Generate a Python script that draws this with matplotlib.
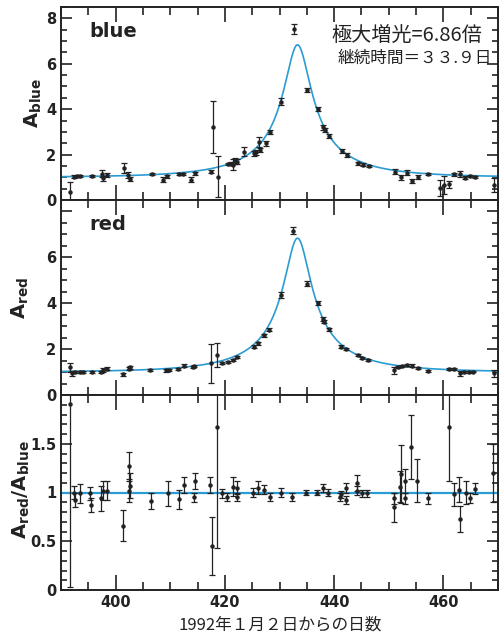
import numpy as np
import matplotlib
matplotlib.use('Agg')
import matplotlib.pyplot as plt
from matplotlib.ticker import MultipleLocator

plt.rcParams['font.family'] = ['DejaVu Sans', 'Noto Sans CJK JP']
plt.rcParams['mathtext.fontset'] = 'dejavusans'

# ---- data (days since 1992-01-02) ----
blue_t = [391.7, 392.3, 392.9, 393.5, 395.6, 397.5, 397.7, 398.5, 401.5, 402.3, 402.6,
          406.6, 408.6, 409.4, 411.6, 412.4, 413.8, 414.5, 417.5, 417.8, 418.7, 420.5,
          421.1, 421.4, 421.8, 422.3, 423.5, 425.4, 425.7, 426.3, 426.4, 427.5, 428.2,
          430.2, 432.6, 435.1, 437.1, 438.0, 438.3, 439.1, 441.4, 442.3, 444.3, 445.3,
          446.3, 451.2, 452.2, 453.3, 454.2, 455.4, 457.2, 459.3, 460.1, 461.1, 462.0,
          463.0, 463.9, 464.8, 465.8, 469.2]
blue_a = [0.35, 1.03, 1.05, 1.05, 1.06, 1.15, 0.95, 1.10, 1.41, 1.10, 0.92,
          1.15, 0.90, 1.05, 1.15, 1.13, 0.90, 1.18, 1.25, 3.23, 1.03, 1.59,
          1.60, 1.55, 1.72, 1.69, 2.13, 2.05, 2.10, 2.57, 2.20, 2.50, 3.00,
          4.33, 7.52, 4.85, 4.02, 3.20, 3.08, 2.82, 2.15, 1.98, 1.62, 1.56,
          1.50, 1.25, 1.00, 1.20, 0.84, 1.02, 1.13, 0.52, 0.66, 0.70, 1.13,
          1.15, 0.98, 1.05, 1.02, 0.66]
blue_err = [0.45, 0.08, 0.05, 0.05, 0.05, 0.15, 0.10, 0.08, 0.23, 0.15, 0.10,
            0.06, 0.10, 0.07, 0.06, 0.05, 0.10, 0.07, 0.07, 1.15, 0.90, 0.06,
            0.06, 0.25, 0.12, 0.10, 0.20, 0.10, 0.10, 0.22, 0.10, 0.10, 0.10,
            0.15, 0.22, 0.10, 0.08, 0.10, 0.08, 0.08, 0.08, 0.08, 0.06, 0.05,
            0.04, 0.10, 0.12, 0.10, 0.08, 0.10, 0.05, 0.35, 0.40, 0.15, 0.08,
            0.12, 0.06, 0.04, 0.04, 0.30]

red_t = [391.7, 392.0, 392.6, 393.4, 394.0, 395.6, 397.3, 397.6, 398.5, 401.4, 402.4,
         402.6, 406.3, 409.2, 409.7, 411.5, 412.5, 414.2, 414.4, 417.5, 418.5, 419.5,
         420.5, 421.4, 422.3, 425.3, 426.1, 427.2, 428.1, 430.2, 432.4, 435.0, 437.0,
         438.0, 438.2, 439.1, 441.3, 442.2, 444.3, 445.1, 446.2, 451.0, 451.7, 452.5,
         453.4, 454.3, 455.3, 457.1, 461.0, 461.9, 463.0, 463.7, 464.6, 465.5, 469.2]
red_a = [1.20, 0.95, 1.01, 1.01, 1.01, 1.00, 1.00, 1.10, 1.15, 0.91, 1.15,
         1.20, 1.09, 1.08, 1.10, 1.13, 1.28, 1.22, 1.25, 1.38, 1.75, 1.40,
         1.44, 1.53, 1.65, 2.10, 2.25, 2.60, 2.85, 4.35, 7.17, 4.86, 4.00,
         3.30, 3.20, 2.87, 2.10, 1.99, 1.74, 1.60, 1.52, 1.08, 1.23, 1.25,
         1.30, 1.28, 1.16, 1.04, 1.12, 1.12, 0.94, 1.01, 1.01, 1.02, 0.94]
red_err = [0.20, 0.10, 0.05, 0.04, 0.04, 0.05, 0.06, 0.08, 0.05, 0.06, 0.06,
           0.06, 0.05, 0.06, 0.05, 0.05, 0.05, 0.05, 0.05, 0.85, 0.52, 0.04,
           0.04, 0.04, 0.05, 0.06, 0.06, 0.07, 0.07, 0.12, 0.14, 0.10, 0.08,
           0.08, 0.08, 0.07, 0.06, 0.05, 0.06, 0.05, 0.04, 0.15, 0.05, 0.05,
           0.05, 0.06, 0.04, 0.03, 0.05, 0.04, 0.12, 0.04, 0.03, 0.03, 0.15]

ratio_t = [391.7, 392.3, 392.6, 393.4, 395.3, 395.5, 397.3, 397.6, 398.4, 401.3, 402.4,
           402.5, 402.6, 406.5, 409.6, 411.6, 412.5, 414.4, 414.5, 417.3, 417.6, 418.5,
           419.4, 420.4, 421.4, 422.2, 422.3, 425.2, 426.1, 427.2, 428.2, 430.2, 432.2,
           434.8, 436.8, 438.0, 438.9, 441.0, 441.2, 442.1, 442.2, 444.1, 444.2, 445.1,
           446.1, 450.9, 451.0, 452.0, 452.2, 452.9, 453.0, 454.0, 455.2, 457.1, 461.0,
           462.0, 462.9, 463.1, 464.1, 464.9, 465.8, 469.1]
ratio_v = [1.91, 1.00, 0.92, 0.99, 0.99, 0.87, 0.94, 1.02, 1.02, 0.66, 1.27,
           1.02, 1.07, 0.91, 0.99, 0.93, 1.08, 0.95, 1.12, 1.08, 0.45, 1.67,
           0.99, 0.95, 1.06, 1.05, 0.95, 1.00, 1.05, 1.03, 0.95, 1.00, 0.95,
           1.00, 1.00, 1.05, 1.00, 0.95, 0.98, 1.05, 0.92, 1.10, 1.02, 0.99,
           0.99, 0.94, 0.85, 1.06, 1.19, 1.12, 0.94, 1.47, 1.12, 0.94, 1.67,
           0.98, 1.03, 0.73, 1.00, 0.94, 1.04, 1.20]
ratio_err = [1.88, 0.07, 0.07, 0.10, 0.07, 0.07, 0.13, 0.10, 0.10, 0.16, 0.15,
             0.12, 0.13, 0.08, 0.13, 0.10, 0.08, 0.05, 0.08, 0.08, 0.30, 1.24,
             0.05, 0.04, 0.10, 0.07, 0.04, 0.05, 0.07, 0.05, 0.04, 0.05, 0.04,
             0.03, 0.03, 0.04, 0.04, 0.04, 0.04, 0.05, 0.04, 0.08, 0.05, 0.04,
             0.04, 0.06, 0.15, 0.16, 0.30, 0.12, 0.06, 0.33, 0.22, 0.06, 0.55,
             0.12, 0.13, 0.13, 0.12, 0.05, 0.06, 0.30]

# fitted microlensing model parameters
t_peak = 433.3
t_hat = 33.9          # duration (days)
u_min = 0.1475        # gives A_max = 6.86
ratio_fit = 1.0

blue_yticks = [0, 2, 4, 6, 8]
blue_ylabels = ['0', '2', '4', '6', '8']
red_yticks = [0, 2, 4, 6, 8]
red_ylabels = ['0', '2', '4', '6', '']
ratio_yticks = [0, 0.5, 1, 1.5]
ratio_ylabels = ['0', '0.5', '1', '1.5']
x_ticks = [400, 420, 440, 460]
x_labels = ['400', '420', '440', '460']

# ---- figure ----
fig = plt.figure(figsize=(4.99, 6.37), dpi=100)
left, right = 61 / 499, 498 / 499
bounds = [(7, 200), (200, 395), (395, 590)]
axes = []
for top_px, bot_px in bounds:
    ax = fig.add_axes([left, 1 - bot_px / 637, right - left, (bot_px - top_px) / 637])
    axes.append(ax)

curve_color = '#2b9cd3'
ink = '#222222'
tt = np.linspace(390, 470, 800)
u = np.sqrt(u_min ** 2 + ((tt - t_peak) / (t_hat / 2)) ** 2)
model = (u ** 2 + 2) / (u * np.sqrt(u ** 2 + 4))

ebkw = dict(fmt='o', color=ink, ms=2.2, elinewidth=0.9, capsize=2.2,
            capthick=0.9, zorder=3)

ax1, ax2, ax3 = axes
ax1.plot(tt, model, color=curve_color, lw=1.2, zorder=2)
ax1.errorbar(blue_t, blue_a, yerr=blue_err, **ebkw)
ax2.plot(tt, model, color=curve_color, lw=1.2, zorder=2)
ax2.errorbar(red_t, red_a, yerr=red_err, **ebkw)
ax3.axhline(ratio_fit, color=curve_color, lw=1.6, zorder=2)
ax3.errorbar(ratio_t, ratio_v, yerr=ratio_err, **ebkw)

for ax in axes:
    ax.set_xlim(390, 470)
    ax.set_xticks(x_ticks)
    ax.xaxis.set_minor_locator(MultipleLocator(5))
    ax.tick_params(which='both', direction='in', top=True, right=True, width=1.2,
                   labelsize=10.5, colors=ink)
    ax.tick_params(axis='x', which='major', length=11)
    ax.tick_params(axis='x', which='minor', length=6)
    ax.tick_params(axis='y', which='major', length=8)
    ax.tick_params(axis='y', which='minor', length=4)
    for s in ax.spines.values():
        s.set_linewidth(1.4)
        s.set_color(ink)

for ax, yt, yl in ((ax1, blue_yticks, blue_ylabels), (ax2, red_yticks, red_ylabels)):
    ax.set_ylim(0, 8.5)
    ax.set_yticks(yt)
    ax.set_yticklabels(yl, fontweight='bold')
    ax.yaxis.set_minor_locator(MultipleLocator(0.5))
    ax.tick_params(axis='x', labelbottom=False)

ax3.set_ylim(0, 2)
ax3.set_yticks(ratio_yticks)
ax3.set_yticklabels(ratio_ylabels, fontweight='bold')
ax3.yaxis.set_minor_locator(MultipleLocator(0.1))
ax3.set_xticklabels(x_labels, fontweight='bold')

ax1.text(0.064, 0.875, 'blue', transform=ax1.transAxes, fontsize=14, fontweight='bold',
         va='center', ha='left', color=ink)
ax2.text(0.064, 0.872, 'red', transform=ax2.transAxes, fontsize=14, fontweight='bold',
         va='center', ha='left', color=ink)

jp = ['Noto Sans CJK JP', 'DejaVu Sans']
ax1.text(0.963, 0.855, '極大増光=6.86倍', transform=ax1.transAxes, fontsize=14.5,
         ha='right', va='center', family=jp, color=ink)
ax1.text(0.985, 0.735, '継続時間＝３３.９日', transform=ax1.transAxes, fontsize=12,
         ha='right', va='center', family=jp, color=ink)

fig.text(33 / 499, 1 - 103 / 637, r'$\mathbf{A}_{\mathbf{blue}}$', rotation=90,
         ha='center', va='center', fontsize=14, color=ink)
fig.text(20 / 499, 1 - 298 / 637, r'$\mathbf{A}_{\mathbf{red}}$', rotation=90,
         ha='center', va='center', fontsize=14, color=ink)
fig.text(21 / 499, 1 - 490 / 637, r'$\mathbf{A}_{\mathbf{red}}\mathbf{/A}_{\mathbf{blue}}$',
         rotation=90, ha='center', va='center', fontsize=14, color=ink)

fig.text(280 / 499, 1 - 625 / 637, '1992年１月２日からの日数', ha='center', va='center',
         fontsize=12, family=jp, color=ink)

fig.savefig('out.png', dpi=100)
